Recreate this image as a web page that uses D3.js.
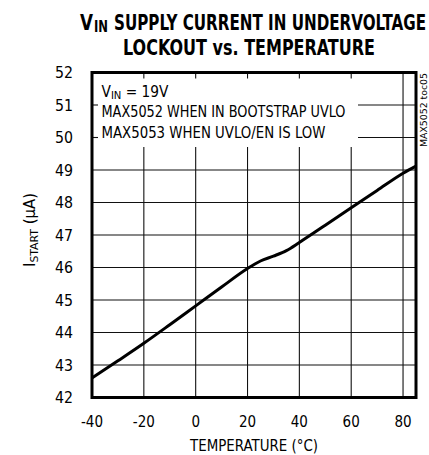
<!DOCTYPE html>
<html>
<head>
<meta charset="utf-8">
<script src="https://cdn.jsdelivr.net/npm/d3@7"></script>
<style>
  body { margin: 0; background: #fff; }
  text { font-family: "Liberation Sans Narrow", "DejaVu Sans Condensed", "Roboto Condensed", sans-serif; fill: #000; }
</style>
</head>
<body>
<div id="chart"></div>
<script>
// data
var temps   = [-40, -30, -20, -10, 0, 10, 20, 25, 30, 35, 40, 50, 60, 70, 80, 85];
var current = [42.6, 43.13, 43.67, 44.24, 44.82, 45.4, 45.97, 46.2, 46.35, 46.52, 46.77, 47.3, 47.84, 48.37, 48.9, 49.12];
var xTicks = [-40, -20, 0, 20, 40, 60, 80];
var yTicks = [42, 43, 44, 45, 46, 47, 48, 49, 50, 51, 52];
var noteLines = ["MAX5052 WHEN IN BOOTSTRAP UVLO", "MAX5053 WHEN UVLO/EN IS LOW"];
var noteWidths = [244, 224];

var W = 429, H = 455;
var pL = 92, pR = 416, pT = 72.5, pB = 397.5;

var svg = d3.select("#chart").append("svg")
  .attr("width", W).attr("height", H);

var x = d3.scaleLinear().domain([-40, 85]).range([pL, pR]);
var y = d3.scaleLinear().domain([42, 52]).range([pB, pT]);

// box that hides the grid behind the note
var boxR = 357, boxB = 147;

var grid = svg.append("g").attr("stroke", "#111").attr("stroke-width", 1.1);
// vertical grid
xTicks.slice(1).forEach(function(t){
  var xx = x(t);
  if (xx < boxR) {
    grid.append("line").attr("x1", xx).attr("x2", xx).attr("y1", pT).attr("y2", pT + 6);
    grid.append("line").attr("x1", xx).attr("x2", xx).attr("y1", boxB).attr("y2", pB);
  } else {
    grid.append("line").attr("x1", xx).attr("x2", xx).attr("y1", pT).attr("y2", pB);
  }
});
// horizontal grid
yTicks.slice(1, -1).forEach(function(v){
  var yy = y(v);
  if (yy < boxB) {
    grid.append("line").attr("x1", pL).attr("x2", pL + 6).attr("y1", yy).attr("y2", yy);
    grid.append("line").attr("x1", boxR + 1).attr("x2", pR).attr("y1", yy).attr("y2", yy);
  } else {
    grid.append("line").attr("x1", pL).attr("x2", pR).attr("y1", yy).attr("y2", yy);
  }
});

// curve
var line = d3.line().x(function(d, i){ return x(temps[i]); }).y(function(d){ return y(d); })
  .curve(d3.curveMonotoneX);
svg.append("path").datum(current)
  .attr("d", line)
  .attr("fill", "none").attr("stroke", "#000").attr("stroke-width", 3);

// frame
svg.append("rect").attr("x", pL).attr("y", pT)
  .attr("width", pR - pL).attr("height", pB - pT)
  .attr("fill", "none").attr("stroke", "#000").attr("stroke-width", 3);

// axes labels
svg.append("g").selectAll("text").data(yTicks).enter().append("text")
  .attr("x", 73).attr("y", function(d){ return y(d) + 5.5; })
  .attr("text-anchor", "end").attr("font-size", 15)
  .attr("textLength", 18).attr("lengthAdjust", "spacingAndGlyphs")
  .text(function(d){ return d; });

svg.append("g").selectAll("text").data(xTicks).enter().append("text")
  .attr("x", function(d){ return x(d); }).attr("y", 427)
  .attr("text-anchor", "middle").attr("font-size", 15)
  .text(function(d){ return d; });

svg.append("text").attr("x", 254).attr("y", 451)
  .attr("text-anchor", "middle").attr("font-size", 15)
  .attr("textLength", 128).attr("lengthAdjust", "spacingAndGlyphs")
  .text("TEMPERATURE (°C)");

var yt = svg.append("text")
  .attr("transform", "translate(35," + 230 + ") rotate(-90)")
  .attr("text-anchor", "middle").attr("font-size", 15)
  .attr("textLength", 74).attr("lengthAdjust", "spacingAndGlyphs");
yt.append("tspan").text("I");
yt.append("tspan").attr("font-size", 11).attr("dy", 3).text("START");
yt.append("tspan").attr("dy", -3).text(" (µA)");

// note
var n1 = svg.append("text").attr("x", 101.5).attr("y", 96.7).attr("font-size", 15)
  .attr("textLength", 67).attr("lengthAdjust", "spacingAndGlyphs");
n1.append("tspan").text("V");
n1.append("tspan").attr("font-size", 11).attr("dy", 2.5).text("IN");
n1.append("tspan").attr("dy", -2.5).text(" = 19V");
svg.selectAll(".note").data(noteLines).enter().append("text")
  .attr("class", "note")
  .attr("x", 101.5).attr("y", function(d, i){ return 116.7 + i * 21.6; })
  .attr("font-size", 15)
  .attr("textLength", function(d, i){ return noteWidths[i]; })
  .attr("lengthAdjust", "spacingAndGlyphs")
  .text(function(d){ return d; });

// side code
svg.append("text")
  .attr("transform", "translate(427,147) rotate(-90)")
  .attr("font-size", 9).attr("textLength", 74).attr("lengthAdjust", "spacingAndGlyphs")
  .text("MAX5052 toc05");

// title, line 1 in pieces for the subscript
var title = svg.append("g").attr("font-weight", "bold");
title.append("text").attr("x", 80).attr("y", 30).attr("font-size", 21)
  .attr("textLength", 13).attr("lengthAdjust", "spacingAndGlyphs").text("V");
title.append("text").attr("x", 94).attr("y", 32).attr("font-size", 15)
  .attr("textLength", 14).attr("lengthAdjust", "spacingAndGlyphs").text("IN");
title.append("text").attr("x", 114).attr("y", 30).attr("font-size", 21)
  .attr("textLength", 312).attr("lengthAdjust", "spacingAndGlyphs")
  .text("SUPPLY CURRENT IN UNDERVOLTAGE");
title.append("text").attr("x", 249).attr("y", 55)
  .attr("text-anchor", "middle").attr("font-size", 21)
  .attr("textLength", 252).attr("lengthAdjust", "spacingAndGlyphs")
  .text("LOCKOUT vs. TEMPERATURE");
</script>
</body>
</html>
